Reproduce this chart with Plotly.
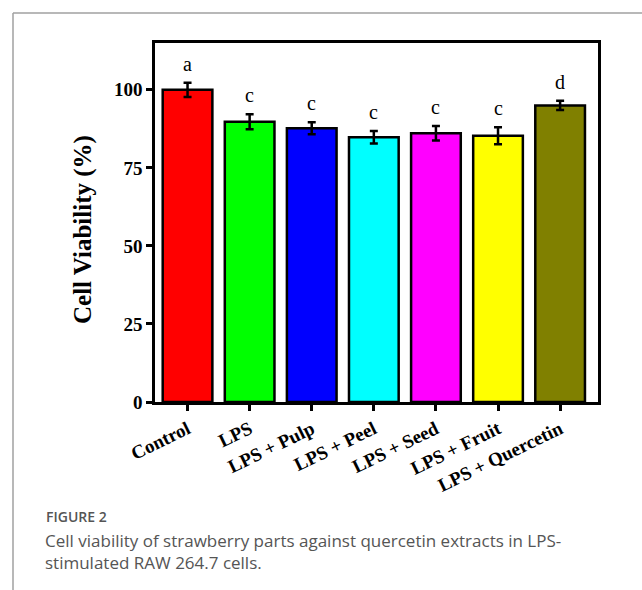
import plotly.graph_objects as go

categories = ["Control", "LPS", "LPS + Pulp", "LPS + Peel", "LPS + Seed", "LPS + Fruit", "LPS + Quercetin"]
viability = [100.0, 89.8, 87.7, 84.8, 86.1, 85.3, 95.0]
errors = [2.3, 2.4, 1.9, 2.0, 2.3, 2.7, 1.5]
letters = ["a", "c", "c", "c", "c", "c", "d"]
colors = ["#ff0000", "#00ff00", "#0000ff", "#00ffff", "#ff00ff", "#ffff00", "#808000"]
y_ticks = [0, 25, 50, 75, 100]

W, H = 642, 590
L, R, T, B = 155, 598, 43, 402

def px(xp):
    return (xp - L) / (R - L)

def py(yp):
    return (B - yp) / (B - T)

serif = "Liberation Serif"

fig = go.Figure()
fig.add_trace(go.Bar(
    x=categories, y=viability, width=0.8,
    marker=dict(color=colors, line=dict(color="black", width=2.5)),
    error_y=dict(type="data", array=errors, visible=True, color="black", thickness=2.5, width=4),
    showlegend=False,
))

for c, v, e, lt in zip(categories, viability, errors, letters):
    fig.add_annotation(x=c, y=v + e, text=lt, showarrow=False, yanchor="bottom", yshift=6,
                       font=dict(family=serif, size=20, color="black"))

# y-axis title
fig.add_annotation(xref="paper", yref="paper", x=px(83), y=py(230), text="Cell Viability (%)",
                   textangle=-90, showarrow=False, xanchor="center", yanchor="middle",
                   font=dict(family=serif, size=25, color="black", weight="bold"))

# outer frame
fig.add_shape(type="line", xref="paper", yref="paper", x0=px(13), x1=px(13), y0=py(590), y1=py(13),
              line=dict(color="#a0a0a0", width=1.5))
fig.add_shape(type="line", xref="paper", yref="paper", x0=px(13), x1=px(642), y0=py(13), y1=py(13),
              line=dict(color="#a0a0a0", width=1.5))

fig.add_annotation(xref="paper", yref="paper", x=px(44), y=py(516), xanchor="left", yanchor="middle",
                   text="FIGURE 2", showarrow=False,
                   font=dict(family="Open Sans", size=14, color="#555555", weight=600))
fig.add_annotation(xref="paper", yref="paper", x=px(43), y=py(551), xanchor="left", yanchor="middle",
                   text="Cell viability of strawberry parts against quercetin extracts in LPS-<br>stimulated RAW 264.7 cells.",
                   align="left", showarrow=False,
                   font=dict(family="Open Sans", size=17, color="#555555"))

fig.update_layout(
    width=W, height=H,
    margin=dict(l=L, r=W - R, t=T, b=H - B),
    plot_bgcolor="white", paper_bgcolor="white",
    bargap=0.2,
    xaxis=dict(range=[-0.524, 6.61], showline=True, linecolor="black", linewidth=2.5, mirror=True,
               ticks="outside", ticklen=6, tickwidth=2.5, tickcolor="black",
               tickangle=-26, tickfont=dict(family=serif, size=19, color="black", weight="bold"),
               showgrid=False),
    yaxis=dict(range=[0, 115], showline=True, linecolor="black", linewidth=2.5, mirror=True,
               ticks="outside", ticklen=6, tickwidth=2.5, tickcolor="black",
               tickvals=y_ticks, tickfont=dict(family=serif, size=19, color="black", weight="bold"),
               showgrid=False, zeroline=False),
)

fig.write_html("out.html")
